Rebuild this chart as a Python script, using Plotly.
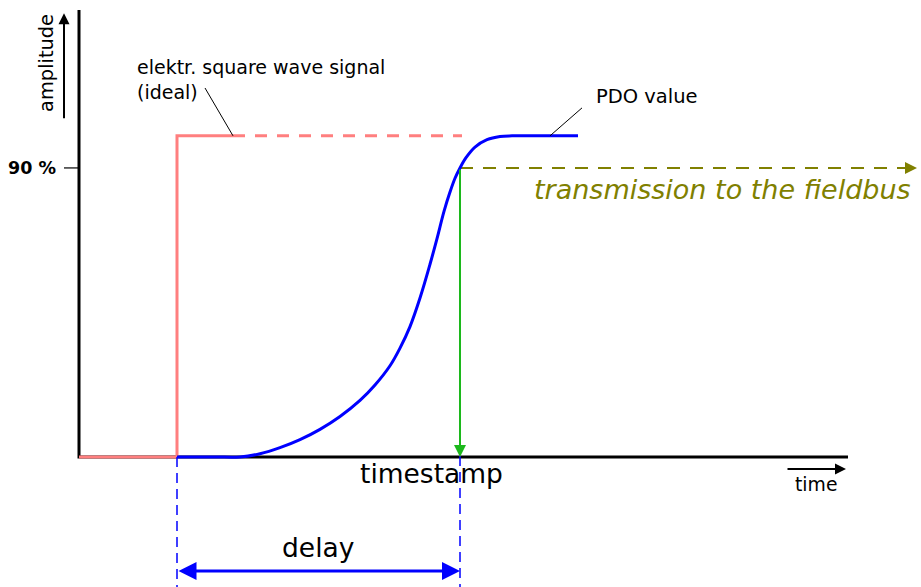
import plotly.graph_objects as go

# ---- data (x: time units, y: amplitude in %) ----
pdo_t = [177, 215, 240, 260, 280, 300, 320, 340, 360, 375, 390, 400, 410, 420, 430, 437, 444, 450, 455, 460, 466, 475, 487, 500, 512, 545, 578]
pdo_a = [0, 0, 0, 1.0, 2.9, 5.4, 8.6, 12.6, 17.6, 22.4, 28.4, 33.9, 40.6, 49.5, 60.0, 68.0, 76.5, 82.5, 86.8, 90.0, 93.2, 96.5, 98.8, 99.8, 100, 100, 100]

square_solid_t = [79, 177, 177, 233]
square_solid_a = [0, 0, 100, 100]
square_dash_t = [233, 462]
square_dash_a = [100, 100]

t_step = 177
t_stamp = 460
level_90 = 90
fieldbus_t = [460, 905]
fieldbus_a = [90, 90]

axis_t = [79, 79, 848]
axis_a = [139.2, 0, 0]
tick_t = [64, 79]
tick_a = [90, 90]

labels = {
    "square": "elektr. square wave signal<br>(ideal)",
    "pdo": "PDO value",
    "fieldbus": "transmission to the fieldbus",
    "timestamp": "timestamp",
    "delay": "delay",
    "time": "time",
    "amplitude": "amplitude",
    "ninety": "90 %",
}

FONT = "DejaVu Sans"
RED = "#ff7f7f"
BLUE = "#0000ff"
GREEN = "#1cb81c"
OLIVE = "#808000"

fig = go.Figure()

def line(x, y, color, width, dash="solid"):
    fig.add_trace(go.Scatter(x=x, y=y, mode="lines", hoverinfo="skip",
                             line=dict(color=color, width=width, dash=dash)))

# axes
line(axis_t, axis_a, "black", 3)
line(tick_t, tick_a, "black", 1.2)
# square wave
line(square_solid_t, square_solid_a, RED, 3)
line(square_dash_t, square_dash_a, RED, 3, "12px,10px")
# vertical delay guides
line([t_step, t_step], [0, -40.5], BLUE, 1.5, "10px,6px")
line([t_stamp, t_stamp], [90, -40.5], BLUE, 1.5, "10px,6px")
# fieldbus dashed
line(fieldbus_t, fieldbus_a, OLIVE, 2, "13px,10px")
# PDO curve
fig.add_trace(go.Scatter(x=pdo_t, y=pdo_a, mode="lines", hoverinfo="skip",
                         line=dict(color=BLUE, width=3, shape="spline", smoothing=1.0)))
# leader lines
line([233, 205], [100, 114.9], "black", 1)
line([550, 582], [100, 108.7], "black", 1)

def arrow(x, y, ax, ay, color, width, head=2, size=1.0, side="end"):
    fig.add_annotation(x=x, y=y, ax=ax, ay=ay, xref="x", yref="y", axref="x", ayref="y",
                       showarrow=True, arrowhead=head, arrowsize=size, arrowwidth=width,
                       arrowcolor=color, arrowside=side, text="")

# green arrow down at timestamp
arrow(t_stamp, 0, t_stamp, level_90, GREEN, 2, head=2, size=1.2)
# fieldbus arrowhead
arrow(917, 90, 900, 90, OLIVE, 2, head=2, size=1.2)
# amplitude arrow
arrow(64, 138.2, 64, 105.0, "black", 2, head=2, size=1.1)
# time arrow
arrow(846, -3.74, 786, -3.74, "black", 2, head=2, size=1.1)
# delay double arrow
arrow(460, -35.5, 177, -35.5, BLUE, 3, head=2, size=1.2, side="end+start")

def text(x, y, s, size, color="black", xanchor="center", yanchor="middle", angle=0, align="center"):
    fig.add_annotation(x=x, y=y, xref="x", yref="y", text=s, showarrow=False,
                       xanchor=xanchor, yanchor=yanchor, textangle=angle, align=align,
                       font=dict(family=FONT, size=size, color=color))

text(135, 117.6, labels["square"], 19, xanchor="left", align="left")
text(647, 112.1, labels["pdo"], 19.5)
text(722, 83.2, "<i>" + labels["fieldbus"] + "</i>", 27, color=OLIVE)
text(431, -5.2, labels["timestamp"], 26.5)
text(318, -28.3, labels["delay"], 26.5)
text(816, -8.7, labels["time"], 18.8)
text(47, 122.7, labels["amplitude"], 19.4, angle=-90)
text(58, 90, "<b>" + labels["ninety"] + "</b>", 17.5, xanchor="right")

fig.update_layout(
    width=921, height=587, margin=dict(l=0, r=0, t=0, b=0),
    paper_bgcolor="white", plot_bgcolor="white", showlegend=False,
    xaxis=dict(range=[0, 921], visible=False),
    yaxis=dict(range=[-40.5, 142.3], visible=False),
)
fig.write_html("out.html", config={"displayModeBar": False},
               post_script="document.body.style.margin='0';")
